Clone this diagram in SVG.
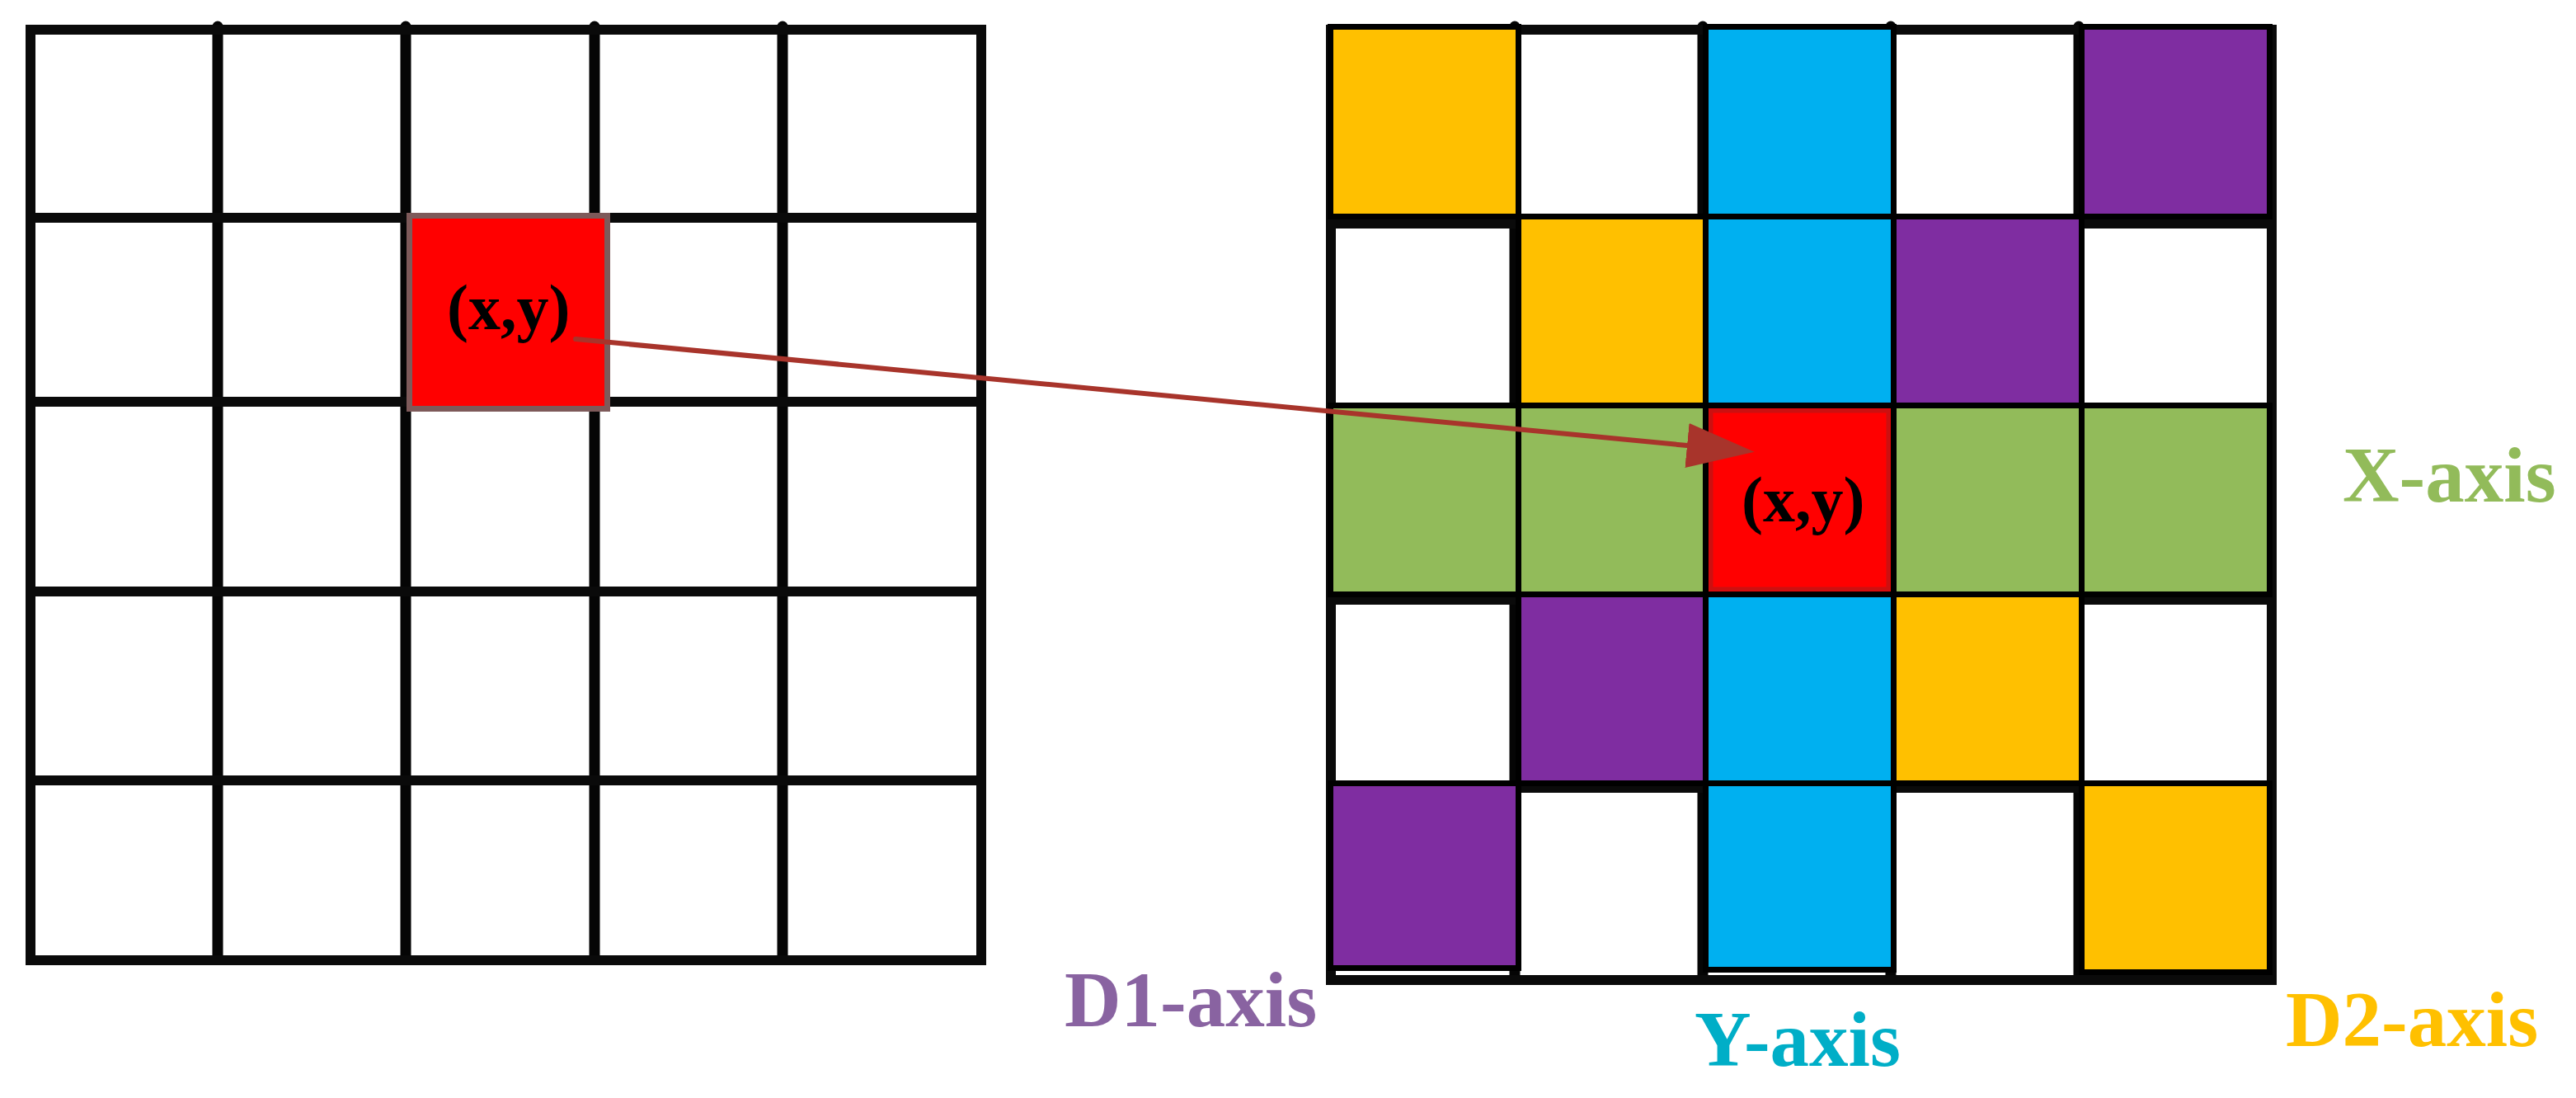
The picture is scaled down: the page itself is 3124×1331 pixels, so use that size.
<svg xmlns="http://www.w3.org/2000/svg" width="3124" height="1331" viewBox="0 0 3124 1331">
<style>
.bg{fill:#ffffff}
.grid{stroke:#0a0a0a;stroke-width:12;fill:none}
.inner{stroke:#050505;stroke-width:13;stroke-linecap:round;fill:none}
.cell{stroke:#000000;stroke-width:7}
.y{fill:#FFC000}
.c{fill:#00B0F0}
.p{fill:#7F2DA1}
.g{fill:#92BB5A}
.r{fill:#FF0000}
.lbl{font-family:"Liberation Serif","Times New Roman",serif;font-weight:bold;font-size:95px}
.xy{font-family:"Liberation Serif","Times New Roman",serif;font-weight:bold;font-size:78px;fill:#000000}
</style>
<defs>
<marker id="ah" markerUnits="userSpaceOnUse" viewBox="0 0 82 54" refX="0" refY="27" markerWidth="82" markerHeight="54" orient="auto">
<path d="M0,0 L82,27 L0,54 Z" fill="#A8342B"/>
</marker>
</defs>
<rect class="bg" x="0" y="0" width="3124" height="1331"/>

<g id="left-grid">
<line class="inner" x1="264" y1="32" x2="264" y2="1160"/>
<line class="inner" x1="492" y1="32" x2="492" y2="1160"/>
<line class="inner" x1="721" y1="32" x2="721" y2="1160"/>
<line class="inner" x1="949" y1="32" x2="949" y2="1160"/>
<line class="grid" x1="37" y1="264" x2="1190" y2="264"/>
<line class="grid" x1="37" y1="487" x2="1190" y2="487"/>
<line class="grid" x1="37" y1="717" x2="1190" y2="717"/>
<line class="grid" x1="37" y1="946" x2="1190" y2="946"/>
<rect class="grid" x="37" y="36" width="1153" height="1128"/>
</g>

<g id="left-cell">
<rect x="496.5" y="261.5" width="240" height="234" fill="#FF0000" stroke="#7e5a5a" stroke-width="7"/>
<text class="xy" x="542" y="399">(x,y)</text>
</g>

<g id="right-grid">
<line class="inner" x1="1837" y1="32" x2="1837" y2="1186"/>
<line class="inner" x1="2065" y1="32" x2="2065" y2="1186"/>
<line class="inner" x1="2293" y1="32" x2="2293" y2="1186"/>
<line class="inner" x1="2521" y1="32" x2="2521" y2="1186"/>
<line class="grid" x1="1614" y1="271" x2="2755" y2="271"/>
<line class="grid" x1="1614" y1="499" x2="2755" y2="499"/>
<line class="grid" x1="1614" y1="727" x2="2755" y2="727"/>
<line class="grid" x1="1614" y1="955" x2="2755" y2="955"/>
<rect class="grid" x="1614" y="36" width="1141" height="1152"/>
</g>

<g id="right-cells">
<rect class="cell y" x="1613.5" y="32.5" width="228" height="230"/>
<rect class="cell c" x="2068.5" y="32.5" width="228" height="230"/>
<rect class="cell p" x="2524.5" y="32.5" width="228" height="230"/>

<rect class="cell y" x="1841.5" y="262.5" width="227" height="229"/>
<rect class="cell c" x="2068.5" y="262.5" width="228" height="229"/>
<rect class="cell p" x="2296.5" y="262.5" width="228" height="229"/>

<rect class="cell g" x="1613.5" y="491.5" width="228" height="229"/>
<rect class="cell g" x="1841.5" y="491.5" width="227" height="229"/>
<rect class="cell g" x="2296.5" y="491.5" width="228" height="229"/>
<rect class="cell g" x="2524.5" y="491.5" width="228" height="229"/>

<rect class="cell p" x="1841.5" y="720.5" width="227" height="229"/>
<rect class="cell c" x="2068.5" y="720.5" width="228" height="229"/>
<rect class="cell y" x="2296.5" y="720.5" width="228" height="229"/>

<rect class="cell p" x="1613.5" y="949.5" width="228" height="224"/>
<rect class="cell c" x="2068.5" y="949.5" width="228" height="226"/>
<rect class="cell y" x="2524.5" y="949.5" width="228" height="229"/>
</g>

<g id="right-cell">
<rect class="cell r" x="2068.5" y="491.5" width="228" height="229"/>
<rect x="2075" y="498" width="215" height="216" fill="none" stroke="#cc1010" stroke-width="5"/>
<text class="xy" x="2112" y="632">(x,y)</text>
</g>

<g id="connectors">
<line x1="698" y1="411" x2="2046" y2="540" stroke="#A8342B" stroke-width="6" stroke-linecap="round" marker-end="url(#ah)"/>
</g>

<g id="label-x"><text class="lbl" x="2841" y="608" fill="#92BB5A">X-axis</text></g>
<g id="label-d1"><text class="lbl" x="1291" y="1244" fill="#8963A1">D1-axis</text></g>
<g id="label-y"><text class="lbl" x="2055" y="1292" fill="#00AEC7">Y-axis</text></g>
<g id="label-d2"><text class="lbl" x="2772" y="1268" fill="#FFC000">D2-axis</text></g>
</svg>
